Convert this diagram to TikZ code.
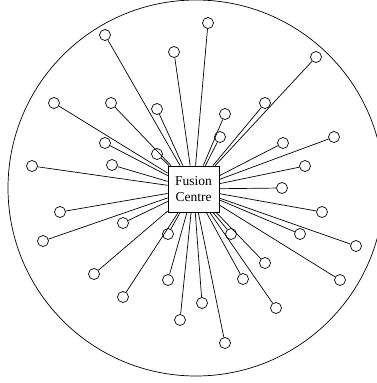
\documentclass[tikz,border=0pt]{standalone}
\usepackage{fontspec}
\setmainfont{Liberation Serif}
\begin{document}
\begin{tikzpicture}[x=1pt,y=-1pt,
  sensor/.style={circle,draw,line width=0.7pt,minimum size=11pt,inner sep=0pt},
  centre/.style={draw,line width=0.7pt,minimum width=51pt,minimum height=46pt,inner sep=0pt,align=center,font=\fontsize{13.5}{16.5}\selectfont},
  link/.style={line width=0.7pt}]
\useasboundingbox (0,0) rectangle (377,383);
\clip (0,0) rectangle (377,383);
\draw[line width=0.7pt] (196,188) circle[radius=188];
\node[centre] (fc) at (193.5,189) {Fusion\\Centre};
\foreach \i/\x/\y in {1/105/35,2/174/52,3/54/103,4/111/103,5/157/109,6/105/143,7/157/154,8/32/166,9/112/165,
  10/208/23,11/316/57,12/225/114,13/265/103,14/220/137,15/334/137,16/283/143,17/305/166,18/282/188,
  19/60/212,20/123/223,21/43/241,22/168/234,23/94/274,24/168/280,25/123/297,26/180/320,
  27/322/212,28/300/234,29/356/246,30/231/234,31/265/263,32/243/279,33/340/280,34/202/303,35/276/308,36/225/343}
{
  \node[sensor] (s\i) at (\x,\y) {};
  \draw[link] (s\i) -- (fc);
}
\end{tikzpicture}
\end{document}
